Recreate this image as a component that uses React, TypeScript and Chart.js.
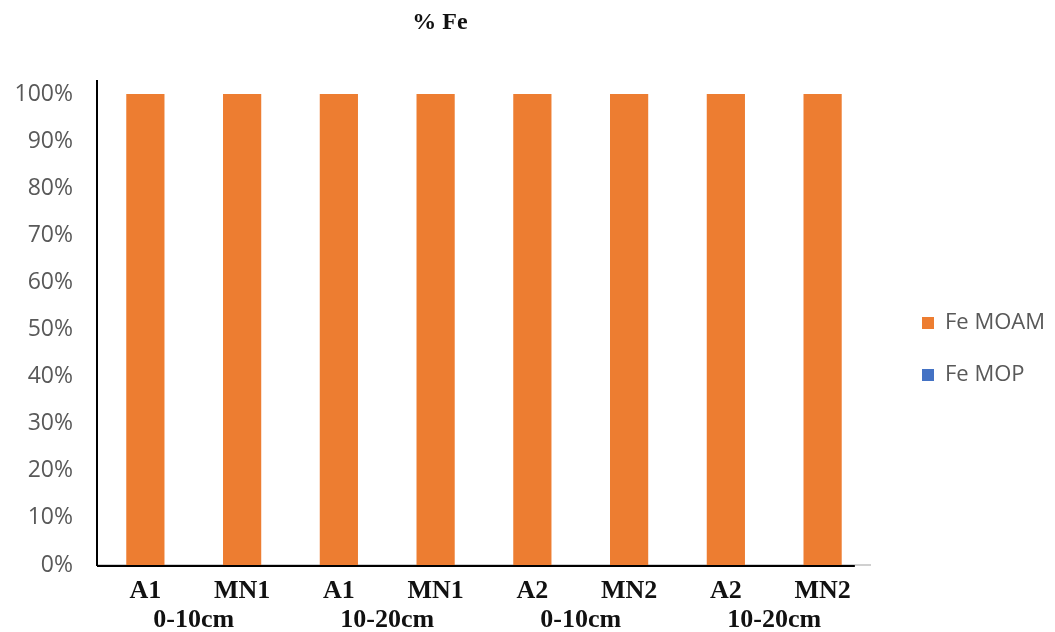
import React, { useEffect, useRef } from "react";
import { Chart, registerables } from "chart.js";

Chart.register(...registerables);

const TITLE = "% Fe";
const categories = ["A1", "MN1", "A1", "MN1", "A2", "MN2", "A2", "MN2"];
const depthLabels = ["0-10cm", "10-20cm", "0-10cm", "10-20cm"];
const feMOAM = [100, 100, 100, 100, 100, 100, 100, 100];
const feMOP = [0, 0, 0, 0, 0, 0, 0, 0];
const yTicks = [0, 10, 20, 30, 40, 50, 60, 70, 80, 90, 100];

export default function App() {
  const ref = useRef<HTMLCanvasElement>(null);

  useEffect(() => {
    document.body.style.margin = "0";
    const titlePlugin = {
      id: "customTitle",
      afterDraw(chart: any) {
        const { ctx } = chart;
        ctx.save();
        ctx.font = "bold 24px 'Liberation Serif'";
        ctx.fillStyle = "#111";
        ctx.textAlign = "center";
        ctx.textBaseline = "middle";
        ctx.fillText(TITLE, 440, 23);
        ctx.restore();
      },
    };
    const axisLinePlugin = {
      id: "axisLine",
      afterDraw(chart: any) {
        const { ctx, chartArea } = chart;
        const xs = chart.scales.x;
        const end = xs.getPixelForValue(categories.length - 1) + xs.width / categories.length / 3;
        ctx.save();
        ctx.strokeStyle = "#000";
        ctx.lineWidth = 2;
        ctx.beginPath();
        ctx.moveTo(chartArea.left, chartArea.bottom + 1);
        ctx.lineTo(end, chartArea.bottom + 1);
        ctx.stroke();
        ctx.restore();
      },
    };
    const xFont = { family: "'Liberation Serif', serif", weight: "bold" as const, size: 26 };
    const chart = new Chart(ref.current as HTMLCanvasElement, {
      type: "bar",
      data: {
        labels: categories,
        datasets: [
          { label: "Fe MOAM", data: feMOAM, backgroundColor: "#ED7D31" },
          { label: "Fe MOP", data: feMOP, backgroundColor: "#4472C4" },
        ],
      },
      options: {
        animation: false,
        responsive: true,
        maintainAspectRatio: false,
        layout: { padding: { top: 81, left: 13, right: 0, bottom: 0 } },
        datasets: { bar: { categoryPercentage: 1, barPercentage: 0.395 } },
        scales: {
          x: {
            stacked: true,
            grid: { display: false, drawTicks: false },
            border: { color: "#D0D0D0", width: 2 },
            ticks: { font: xFont, color: "#111", padding: 11, maxRotation: 0, autoSkip: false },
            afterFit: (s: any) => {
              s.height = 39.4;
            },
          },
          x2: {
            type: "category",
            labels: depthLabels,
            position: "bottom",
            grid: { display: false, drawTicks: false },
            border: { display: false },
            ticks: { font: xFont, color: "#111", padding: 0, maxRotation: 0, autoSkip: false },
            afterFit: (s: any) => {
              s.height = 27.6;
            },
          },
          y: {
            stacked: true,
            min: 0,
            max: 102.76,
            grid: { display: false, drawTicks: false },
            border: { color: "#000", width: 2 },
            ticks: {
              callback: (v: any) => v + "%",
              font: { family: "'Open Sans'", size: 23 },
              color: "#595959",
              padding: 24,
            },
            afterBuildTicks: (s: any) => {
              s.ticks = yTicks.map((v) => ({ value: v }));
            },
            afterFit: (s: any) => {
              s.width = 84;
            },
          },
          yR: {
            type: "linear",
            position: "right",
            display: true,
            grid: { display: false, drawTicks: false },
            border: { display: false },
            ticks: { display: false },
            afterFit: (s: any) => {
              s.width = 21;
            },
          },
        },
        plugins: {
          legend: {
            position: "right",
            align: "start",
            title: { display: true, text: " ", padding: { top: 186.6, bottom: 0 }, font: { size: 12 } },
            labels: {
              boxWidth: 12,
              boxHeight: 12,
              padding: 30,
              color: "#595959",
              font: { family: "'Open Sans'", size: 22 },
            },
          },
          tooltip: { enabled: false },
        },
      },
      plugins: [titlePlugin, axisLinePlugin],
    });
    return () => chart.destroy();
  }, []);

  return (
    <div style={{ width: 1055, height: 632, position: "relative" }}>
      <canvas ref={ref} />
    </div>
  );
}
